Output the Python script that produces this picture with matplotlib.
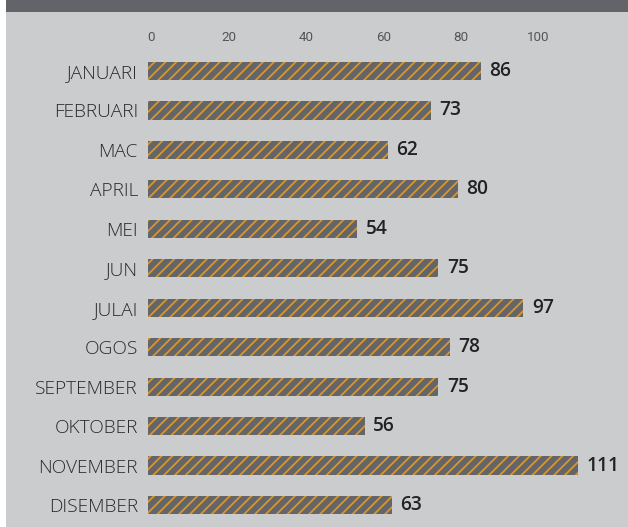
import matplotlib
matplotlib.use("Agg")
import matplotlib.pyplot as plt
from matplotlib.patches import Rectangle

months = ["JANUARI", "FEBRUARI", "MAC", "APRIL", "MEI", "JUN", "JULAI",
          "OGOS", "SEPTEMBER", "OKTOBER", "NOVEMBER", "DISEMBER"]
values = [86, 73, 62, 80, 54, 75, 97, 78, 75, 56, 111, 63]
xticks = [0, 20, 40, 60, 80, 100]

DPI = 130
W, H = 628, 527
plt.rcParams['font.family'] = ['Open Sans', 'DejaVu Sans']
plt.rcParams['hatch.linewidth'] = 1.0

fig = plt.figure(figsize=(W / DPI, H / DPI), dpi=DPI)
fig.patch.set_facecolor("white")

# background panel and top band
fig.patches.append(Rectangle((6 / W, 0), 1 - 6 / W, 1, transform=fig.transFigure,
                             facecolor="#cbcccd", edgecolor="none", zorder=-10))
fig.patches.append(Rectangle((6 / W, 1 - 12 / H), 1 - 6 / W, 12 / H, transform=fig.transFigure,
                             facecolor="#636469", edgecolor="none", zorder=-9))

x0_px = 148
px_per_unit = 3.87
xmax = 120
ax_left = x0_px / W
ax_width = xmax * px_per_unit / W
top_px, bot_px = 51.3, 524.7
ax = fig.add_axes([ax_left, 1 - bot_px / H, ax_width, (bot_px - top_px) / H])
ax.set_facecolor("none")

y = list(range(len(months)))
ax.barh(y, values, height=0.46, color="#646569", edgecolor="#d9962a",
        hatch="////", linewidth=0)
ax.set_ylim(len(months) - 0.5, -0.5)
ax.set_xlim(0, xmax)

ax.set_yticks(y)
ax.set_yticklabels(months, fontsize=10.6, color="#2a2a2a", fontweight="light")
ax.tick_params(axis="y", length=0, pad=10 * 72 / DPI)

ax.xaxis.tick_top()
ax.set_xticks([t + 0.8 for t in xticks])
ax.set_xticklabels([str(t) for t in xticks], fontsize=7.4, color="#555555",
                   fontfamily=["Roboto", "DejaVu Sans"])
ax.tick_params(axis="x", length=0, pad=4)

for s in ax.spines.values():
    s.set_visible(False)

for yi, v in zip(y, values):
    ax.annotate(str(v), xy=(v, yi), xytext=(8.5 * 72 / DPI, 0),
                textcoords="offset points", va="center", ha="left",
                fontsize=10.6, fontweight="semibold", color="#222222")

fig.savefig("out.png", dpi=DPI)
